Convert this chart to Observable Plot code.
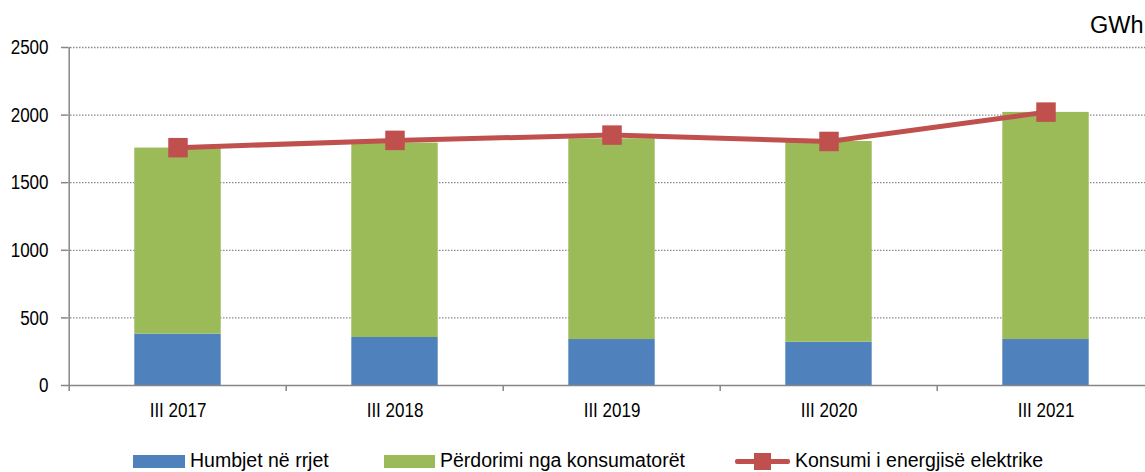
<!DOCTYPE html>
<html><head><meta charset="utf-8">
<script src="https://cdn.jsdelivr.net/npm/d3@7"></script>
<script src="https://cdn.jsdelivr.net/npm/@observablehq/plot@0.6"></script>
<style>
body{margin:0;background:#fff;font-family:"Liberation Sans",Arial,sans-serif;overflow:hidden}
#chart{position:relative;width:1145px;height:472px;overflow:hidden}
#legend{position:relative;width:1145px;height:32px}
#legend div,#legend span{position:absolute}
#legend span{font-size:19.5px;line-height:20px;color:#000;white-space:nowrap}
</style></head><body><div id="chart"></div>
<script>
const categories = ["III 2017","III 2018","III 2019","III 2020","III 2021"];
const seriesNames = ["Humbjet në rrjet","Përdorimi nga konsumatorët","Konsumi i energjisë elektrike"];
const losses = [380,355,340,320,340];
const usage = [1376,1438,1485,1485,1680];
const consumption = [1759,1813,1852,1805,2022];
const yTicks = [0,500,1000,1500,2000,2500];
const unitLabel = "GWh";
const colors = ["#4F81BD","#9BBB59","#C0504D"];

const bars = [];
categories.forEach((c,i)=>{
  bars.push({cat:c, series:seriesNames[0], value:losses[i]});
  bars.push({cat:c, series:seriesNames[1], value:usage[i]});
});
const linePts = categories.map((c,i)=>({cat:c, value:consumption[i]}));

const W=1145, H=440, mL=67, mT=47, mB=55, xEnd=1155;
const step=(xEnd-mL)/categories.length;
const barW=87;
const inset=(step-barW)/2;
const grey="#868686";
const font='"Liberation Sans",Arial,sans-serif';

const plot = Plot.plot({
  width:W, height:H, marginLeft:mL, marginRight:0, marginTop:mT, marginBottom:mB,
  style:{fontFamily:font, fontSize:"17px", color:"#000", background:"transparent", overflow:"visible"},
  x:{domain:categories, range:[mL,xEnd], padding:0, axis:null},
  y:{domain:[0,2500], axis:null},
  color:{domain:seriesNames.slice(0,2), range:colors.slice(0,2)},
  marks:[
    Plot.ruleY(yTicks.filter(d=>d>0), {stroke:"#8a8a8a", strokeDasharray:"1.5,1.5", strokeWidth:1.3}),
    Plot.barY(bars, {x:"cat", y:"value", fill:"series", insetLeft:inset, insetRight:inset}),
    Plot.ruleY([0], {stroke:grey, strokeWidth:1.5}),
    Plot.ruleX([categories[0]], {dx:-step/2, y1:-45, y2:2500, stroke:grey, strokeWidth:1.5}),
    Plot.ruleX(categories.slice(1), {dx:-step/2, y1:-45, y2:0, stroke:grey, strokeWidth:1.5}),
    Plot.axisY({ticks:yTicks, tickFormat:d=>String(d), label:null, tickSize:6, tickPadding:13, stroke:grey, fill:"#000", strokeWidth:1.5, fontSize:21}),
    Plot.axisX({tickSize:0, tickPadding:17, label:null, fill:"#000", fontSize:21}),
    Plot.line(linePts, {x:"cat", y:"value", stroke:colors[2], strokeWidth:5}),
    Plot.dot(linePts, {x:"cat", y:"value", symbol:"square", r:11, fill:colors[2]}),
    Plot.text([unitLabel], {text:d=>d, frameAnchor:"top-right", dx:-2, dy:-15, lineAnchor:"bottom", textAnchor:"end", fontSize:23.5, fill:"#000"})
  ]
});
// condense axis tick labels horizontally (the reference uses a narrow face)
d3.select(plot).selectAll('g[aria-label="y-axis tick label"] text, g[aria-label="x-axis tick label"] text')
  .attr("transform", function(){ return (this.getAttribute("transform")||"") + " scale(0.81,1)"; });

const chart=document.getElementById("chart");
chart.appendChild(plot);

const legend=document.createElement("div");
legend.id="legend";
const items=[
  {type:"rect", x0:133, x1:185, tx:190, name:seriesNames[0], color:colors[0]},
  {type:"rect", x0:384, x1:435, tx:440, name:seriesNames[1], color:colors[1]},
  {type:"line", x0:735, x1:790, tx:795, name:seriesNames[2], color:colors[2]}
];
items.forEach(it=>{
  if(it.type==="rect"){
    const s=document.createElement("div");
    s.style.cssText=`left:${it.x0}px;top:15px;width:${it.x1-it.x0}px;height:13px;background:${it.color}`;
    legend.appendChild(s);
  } else {
    const l=document.createElement("div");
    l.style.cssText=`left:${it.x0}px;top:19px;width:${it.x1-it.x0}px;height:5px;background:${it.color};border-radius:2px`;
    legend.appendChild(l);
    const m=document.createElement("div");
    m.style.cssText=`left:${(it.x0+it.x1)/2-8.5}px;top:13px;width:17px;height:17px;background:${it.color}`;
    legend.appendChild(m);
  }
  const t=document.createElement("span");
  t.textContent=it.name;
  t.style.cssText=`left:${it.tx}px;top:10px`;
  legend.appendChild(t);
});
chart.appendChild(legend);
</script></body></html>
